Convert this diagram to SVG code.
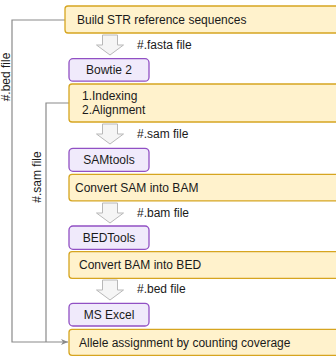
<svg xmlns="http://www.w3.org/2000/svg" width="336" height="356" viewBox="0 0 336 356">
<defs>
<style>
text{font-family:"Liberation Sans",Arial,sans-serif;font-size:12px;fill:#1a1a1a;dominant-baseline:central}
.y{fill:#fff2cc;stroke:#d6a520;stroke-width:1.3}
.p{fill:#f0eafb;stroke:#9150c4;stroke-width:1.3}
.ba{fill:#f5f5f5;stroke:#b8b8b8;stroke-width:1}
.c{fill:none;stroke:#8a8a8a;stroke-width:1.2}
.m{text-anchor:middle}
</style>
<marker id="ah" markerWidth="8" markerHeight="8" refX="7" refY="4" orient="auto" markerUnits="userSpaceOnUse">
<path d="M0,1 L7,4 L0,7 L2,4 Z" fill="#8a8a8a"/>
</marker>
<path id="blk" d="M-7.5,0 H7.5 V10 H13.5 L0,20 L-13.5,10 H-7.5 Z"/>
</defs>
<g id="connectors">
<path class="c" d="M65,20 H12 V342 H68" marker-end="url(#ah)"/>
<path class="c" d="M69,103 H46 V342"/>
<text transform="translate(6,77) rotate(-90)" class="m">#.bed file</text>
<text transform="translate(37,177) rotate(-90)" class="m">#.sam file</text>
</g>
<g id="n1"><rect class="y" x="65" y="6" width="290" height="27" rx="3"/><text x="77" y="20">Build STR reference sequences</text></g>
<g id="a1"><use href="#blk" class="ba" x="110" y="35"/><text x="137" y="45">#.fasta file</text></g>
<g id="n2"><rect class="p" x="69" y="58.7" width="80" height="22.5" rx="4"/><text x="109" y="70" class="m">Bowtie 2</text></g>
<g id="n3"><rect class="y" x="69" y="84" width="290" height="38" rx="3"/><text x="82" y="96">1.Indexing</text><text x="82" y="110">2.Alignment</text></g>
<g id="a2"><use href="#blk" class="ba" x="110" y="124"/><text x="137" y="134">#.sam file</text></g>
<g id="n4"><rect class="p" x="69" y="148.3" width="80" height="23" rx="4"/><text x="109" y="160" class="m">SAMtools</text></g>
<g id="n5"><rect class="y" x="69" y="174.3" width="290" height="26.5" rx="3"/><text x="75" y="188">Convert SAM into BAM</text></g>
<g id="a3"><use href="#blk" class="ba" x="110" y="203"/><text x="137" y="213">#.bam file</text></g>
<g id="n6"><rect class="p" x="69" y="226" width="80" height="23.3" rx="4"/><text x="109" y="238" class="m">BEDTools</text></g>
<g id="n7"><rect class="y" x="69" y="251.7" width="290" height="26.6" rx="3"/><text x="79" y="265">Convert BAM into BED</text></g>
<g id="a4"><use href="#blk" class="ba" x="110" y="280"/><text x="137" y="289">#.bed file</text></g>
<g id="n8"><rect class="p" x="69" y="303.3" width="80" height="22.7" rx="4"/><text x="109" y="315" class="m">MS Excel</text></g>
<g id="n9"><rect class="y" x="69" y="329.3" width="290" height="26" rx="3"/><text x="79" y="343">Allele assignment by counting coverage</text></g>
</svg>
